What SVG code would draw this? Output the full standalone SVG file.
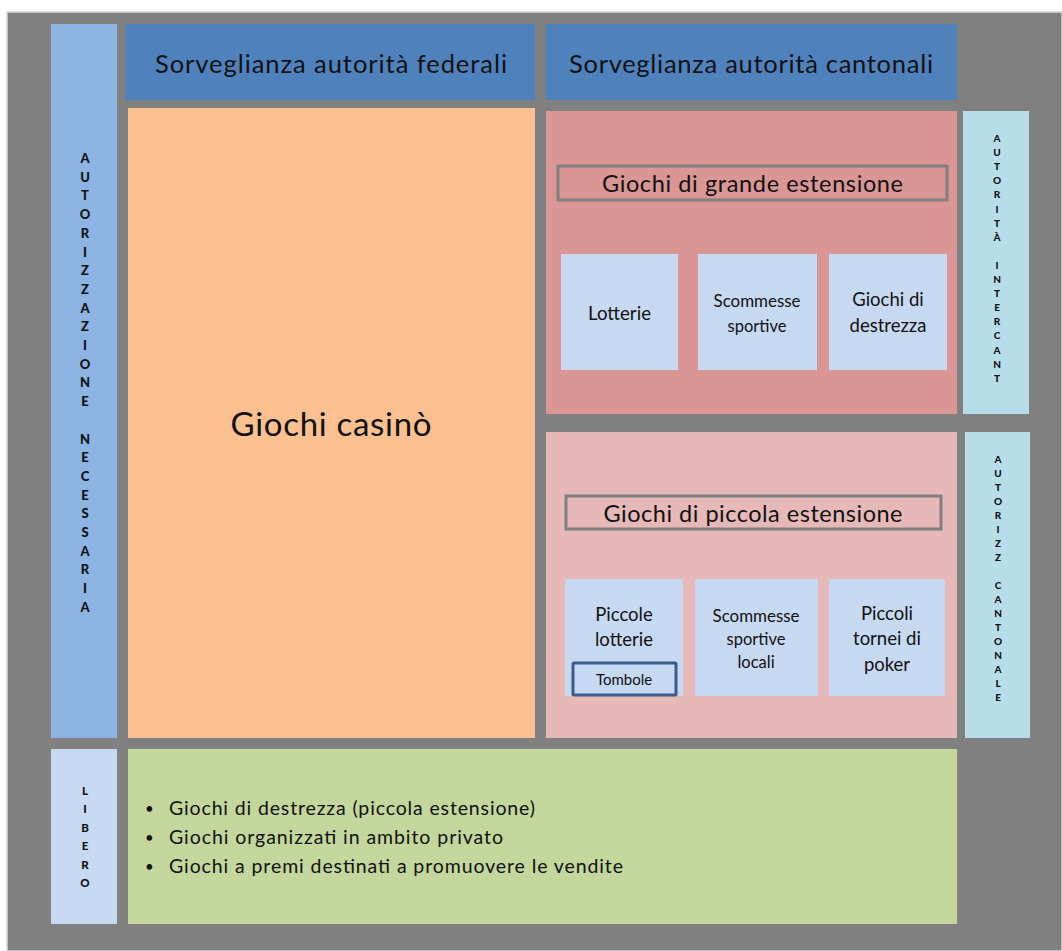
<svg xmlns="http://www.w3.org/2000/svg" width="1062" height="951" viewBox="0 0 1062 951">
<style>
text{font-family:"Lato","Liberation Sans",sans-serif;fill:#111;}
.c{text-anchor:middle;}
.v{font-weight:900;text-anchor:middle;}
.hdr{fill:#4f81bd;}
.box{fill:#c6d9f1;}
.rc{fill:#b7dee8;}
.ttl{fill:none;stroke:#7f7f7f;stroke-width:3;}
</style>
<rect x="0" y="0" width="1062" height="951" fill="#ffffff"/>
<rect x="7" y="12" width="1055" height="939" fill="#808080" stroke="#d9d9d9" stroke-width="1.5"/>
<g id="left-col">
<rect x="51" y="24" width="66" height="714" fill="#8db3e2"/>
<text class="v" font-size="13"><tspan x="85" y="163">A</tspan><tspan x="85" y="181.7">U</tspan><tspan x="85" y="200.4">T</tspan><tspan x="85" y="219.1">O</tspan><tspan x="85" y="237.8">R</tspan><tspan x="85" y="256.5">I</tspan><tspan x="85" y="275.2">Z</tspan><tspan x="85" y="293.9">Z</tspan><tspan x="85" y="312.6">A</tspan><tspan x="85" y="331.3">Z</tspan><tspan x="85" y="350">I</tspan><tspan x="85" y="368.7">O</tspan><tspan x="85" y="387.4">N</tspan><tspan x="85" y="406.1">E</tspan><tspan x="85" y="443.5">N</tspan><tspan x="85" y="462.2">E</tspan><tspan x="85" y="480.9">C</tspan><tspan x="85" y="499.6">E</tspan><tspan x="85" y="518.3">S</tspan><tspan x="85" y="537">S</tspan><tspan x="85" y="555.7">A</tspan><tspan x="85" y="574.4">R</tspan><tspan x="85" y="593.1">I</tspan><tspan x="85" y="611.8">A</tspan></text>
</g>
<g id="federal">
<rect class="hdr" x="125" y="24" width="410" height="76"/>
<text class="c" x="331" y="73" font-size="25.5" textLength="352" lengthAdjust="spacing">Sorveglianza autorità federali</text>
</g>
<g id="cantonal">
<rect class="hdr" x="546" y="24" width="411" height="76"/>
<text class="c" x="751" y="73" font-size="25.5" textLength="364" lengthAdjust="spacing">Sorveglianza autorità cantonali</text>
</g>
<g id="casino">
<rect x="128" y="108" width="407" height="630" fill="#fac090"/>
<text class="c" x="331" y="436" font-size="33" textLength="201" lengthAdjust="spacing">Giochi casinò</text>
</g>
<g id="grande">
<rect x="546" y="111" width="411" height="303" fill="#d99694"/>
<rect class="ttl" x="558" y="166" width="389" height="34"/>
<text class="c" x="752.5" y="192" font-size="23.5" textLength="301" lengthAdjust="spacing">Giochi di grande estensione</text>
</g>
<g id="lotterie">
<rect class="box" x="561" y="254" width="117" height="116"/>
<text class="c" x="619.5" y="320" font-size="18.5" textLength="63" lengthAdjust="spacingAndGlyphs">Lotterie</text>
</g>
<g id="scommesse">
<rect class="box" x="698" y="254" width="119" height="116"/>
<text class="c" x="757" y="307" font-size="16.5" textLength="87" lengthAdjust="spacingAndGlyphs">Scommesse</text>
<text class="c" x="757" y="332" font-size="16.5">sportive</text>
</g>
<g id="destrezza">
<rect class="box" x="829" y="254" width="118" height="116"/>
<text class="c" x="888" y="306" font-size="18.5">Giochi di</text>
<text class="c" x="888" y="332" font-size="18.5">destrezza</text>
</g>
<g id="intercant">
<rect class="rc" x="963" y="111" width="66" height="303"/>
<text class="v" font-size="10"><tspan x="997" y="142">A</tspan><tspan x="997" y="156.1">U</tspan><tspan x="997" y="170.2">T</tspan><tspan x="997" y="184.3">O</tspan><tspan x="997" y="198.4">R</tspan><tspan x="997" y="212.5">I</tspan><tspan x="997" y="226.6">T</tspan><tspan x="997" y="240.7">À</tspan><tspan x="997" y="268.9">I</tspan><tspan x="997" y="283">N</tspan><tspan x="997" y="297.1">T</tspan><tspan x="997" y="311.2">E</tspan><tspan x="997" y="325.3">R</tspan><tspan x="997" y="339.4">C</tspan><tspan x="997" y="353.5">A</tspan><tspan x="997" y="367.6">N</tspan><tspan x="997" y="381.7">T</tspan></text>
</g>
<g id="piccola">
<rect x="546" y="432" width="411" height="306" fill="#e6b9b8"/>
<rect class="ttl" x="566" y="496" width="375" height="33"/>
<text class="c" x="753" y="522" font-size="23.5" textLength="299" lengthAdjust="spacing">Giochi di piccola estensione</text>
</g>
<g id="piccole-lotterie">
<rect class="box" x="565" y="579" width="118" height="117"/>
<text class="c" x="624" y="621" font-size="18.5">Piccole</text>
<text class="c" x="624" y="646" font-size="18.5">lotterie</text>
</g>
<g id="tombole">
<rect x="573" y="663" width="103" height="32" fill="#c6d9f1" stroke="#385d8a" stroke-width="3" rx="1"/>
<text class="c" x="624" y="685" font-size="15">Tombole</text>
</g>
<g id="scommesse-locali">
<rect class="box" x="695" y="579" width="123" height="117"/>
<text class="c" x="756" y="622" font-size="16.5" textLength="87" lengthAdjust="spacingAndGlyphs">Scommesse</text>
<text class="c" x="756" y="645" font-size="16.5">sportive</text>
<text class="c" x="756" y="668" font-size="16.5">locali</text>
</g>
<g id="poker">
<rect class="box" x="829" y="579" width="116" height="117"/>
<text class="c" x="887" y="620" font-size="18.5">Piccoli</text>
<text class="c" x="887" y="645" font-size="18.5">tornei di</text>
<text class="c" x="887" y="671" font-size="18.5">poker</text>
</g>
<g id="autorizz-cantonale">
<rect class="rc" x="965" y="432" width="65" height="306"/>
<text class="v" font-size="10"><tspan x="998" y="463">A</tspan><tspan x="998" y="477">U</tspan><tspan x="998" y="491">T</tspan><tspan x="998" y="505">O</tspan><tspan x="998" y="519">R</tspan><tspan x="998" y="533">I</tspan><tspan x="998" y="547">Z</tspan><tspan x="998" y="561">Z</tspan><tspan x="998" y="589">C</tspan><tspan x="998" y="603">A</tspan><tspan x="998" y="617">N</tspan><tspan x="998" y="631">T</tspan><tspan x="998" y="645">O</tspan><tspan x="998" y="659">N</tspan><tspan x="998" y="673">A</tspan><tspan x="998" y="687">L</tspan><tspan x="998" y="701">E</tspan></text>
</g>
<g id="libero">
<rect class="box" x="51" y="749" width="66" height="175"/>
<text class="v" font-size="11.5"><tspan x="85" y="795">L</tspan><tspan x="85" y="813">I</tspan><tspan x="85" y="831.5">B</tspan><tspan x="85" y="850">E</tspan><tspan x="85" y="868.5">R</tspan><tspan x="85" y="887">O</tspan></text>
</g>
<g id="libero-list">
<rect x="128" y="749" width="829" height="175" fill="#c3d69b"/>
<text font-size="15" x="145" y="814">•</text>
<text font-size="19.5" x="169" y="815" textLength="366" lengthAdjust="spacing">Giochi di destrezza (piccola estensione)</text>
<text font-size="15" x="145" y="843">•</text>
<text font-size="19.5" x="169" y="844" textLength="334" lengthAdjust="spacing">Giochi organizzati in ambito privato</text>
<text font-size="15" x="145" y="872">•</text>
<text font-size="19.5" x="169" y="873" textLength="454" lengthAdjust="spacing">Giochi a premi destinati a promuovere le vendite</text>
</g>
<g id="connectors"></g>
</svg>
